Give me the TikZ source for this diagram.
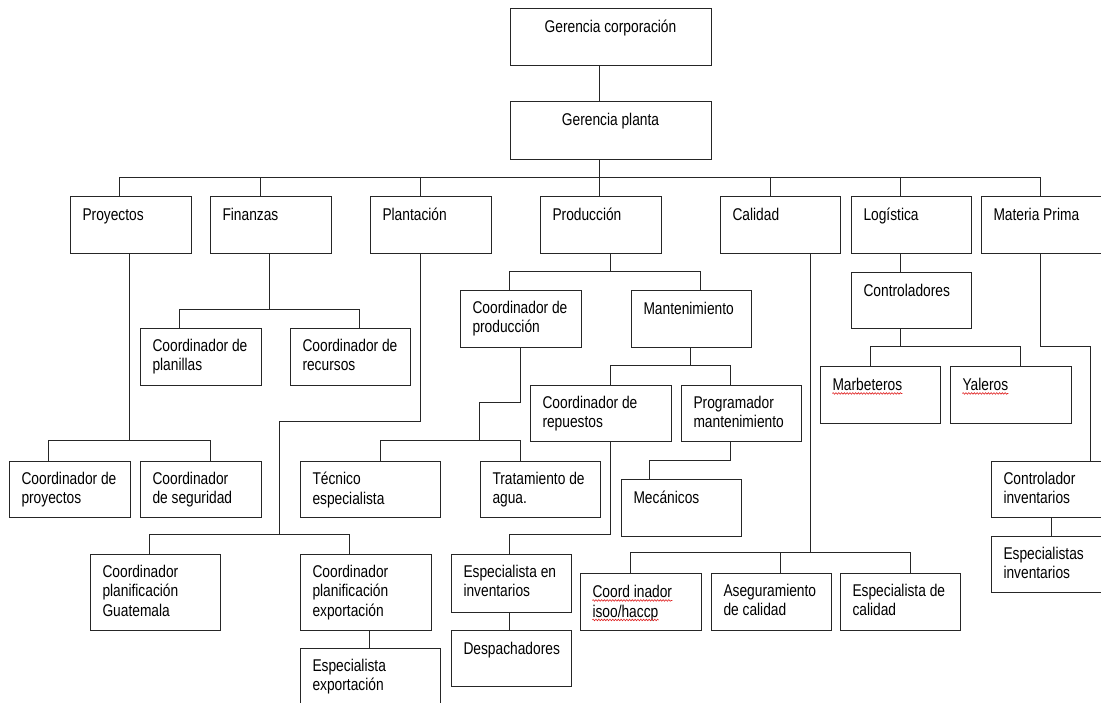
\documentclass[tikz,border=0pt]{standalone}
\usepackage{fontspec}
\setmainfont{Liberation Sans}[FakeStretch=0.81]
\usetikzlibrary{decorations.pathmorphing}

\definecolor{linegray}{HTML}{262626}
\definecolor{spellred}{HTML}{E02020}

\tikzset{
  orgframe/.style={draw=linegray, line width=1pt, rectangle, inner sep=0pt, fill=white},
  boxtxt/.style={inner sep=0pt, align=left, text=black,
    font=\fontsize{17}{19.5}\selectfont, execute at begin node=\strut},
  orgwire/.style={draw=linegray, line width=1pt},
  spellmark/.style={draw=spellred, line width=0.6pt, decorate,
    decoration={snake, amplitude=0.8pt, segment length=2.8pt}}
}

% \orgbox{name}{x1}{y1}{x2}{y2}{text}: framed box with top-left text
\newcommand\orgbox[6]{%
  \node[orgframe, anchor=north west, minimum width={(#4)-(#2)},
        minimum height={(#5)-(#3)}] (#1) at (#2,#3) {};
  \node[boxtxt, anchor=north west] (#1-t) at ([xshift=12.8pt,yshift=-11.3pt]#1.north west) {#6};
}

\begin{document}
\begin{tikzpicture}[x=1pt, y=-1pt]
\useasboundingbox (0,0) rectangle (1101,702);
\clip (0,0) rectangle (1101,702);
\fill[white] (0,0) rectangle (1101,702);
\coordinate (spine) at (599.5,0);

% ---- boxes ----
\node[orgframe, anchor=north west, minimum width=201pt, minimum height=57pt] (gcorp) at (509.5,7.5) {};
\node[boxtxt, anchor=north] (gcorp-t) at ([yshift=-11.3pt]gcorp.north) {Gerencia corporación};
\node[orgframe, anchor=north west, minimum width=201pt, minimum height=58pt] (gplanta) at (509.5,100.5) {};
\node[boxtxt, anchor=north] (gplanta-t) at ([yshift=-11.3pt]gplanta.north) {Gerencia planta};

\orgbox{proy}{69.5}{195.5}{190.5}{252.5}{Proyectos}
\orgbox{fin}{209.5}{195.5}{330.5}{252.5}{Finanzas}
\orgbox{plant}{369.5}{195.5}{490.5}{252.5}{Plantación}
\orgbox{prod}{539.5}{195.5}{660.5}{252.5}{Producción}
\orgbox{cal}{719.5}{195.5}{839.5}{252.5}{Calidad}
\orgbox{log}{850.5}{195.5}{970.5}{252.5}{Logística}
\orgbox{mp}{980.5}{195.5}{1115}{252.5}{Materia Prima}

\orgbox{cplan}{139.5}{327.5}{260.5}{384.5}{Coordinador de\\planillas}
\orgbox{crec}{289.5}{327.5}{409.5}{384.5}{Coordinador de\\recursos}
\orgbox{cproy}{8.5}{460.5}{129.5}{516.5}{Coordinador de\\proyectos}
\orgbox{cseg}{139.5}{460.5}{260.5}{516.5}{Coordinador\\de seguridad}
\orgbox{cguat}{89.5}{553.5}{219.5}{629.5}{Coordinador\\planificación\\Guatemala}
\orgbox{cexp}{299.5}{553.5}{430.5}{629.5}{Coordinador\\planificación\\exportación}
\orgbox{espexp}{299.5}{647.5}{439.5}{720}{Especialista\\exportación}

\orgbox{cprod}{459.5}{289.5}{580.5}{346.5}{Coordinador de\\producción}
\orgbox{mant}{630.5}{289.5}{750.5}{346.5}{Mantenimiento}
\orgbox{tec}{299.5}{460.5}{439.5}{516.5}{Técnico\\especialista}
\orgbox{trat}{479.5}{460.5}{599.5}{516.5}{Tratamiento de\\agua.}
\orgbox{crep}{529.5}{384.5}{670.5}{440.5}{Coordinador de\\repuestos}
\orgbox{prog}{680.5}{384.5}{800.5}{440.5}{Programador\\mantenimiento}
\orgbox{espinv}{450.5}{553.5}{570.5}{611.5}{Especialista en\\inventarios}
\orgbox{desp}{450.5}{629.5}{570.5}{685.5}{Despachadores}
\orgbox{mec}{620.5}{478.5}{740.5}{535.5}{Mecánicos}

\orgbox{iso}{579.5}{572.5}{700.5}{629.5}{Coord inador}
\node[boxtxt, anchor=north west] (iso-t2) at ([yshift=-19.5pt]iso-t.north west) {isoo/haccp};
\orgbox{aseg}{710.5}{572.5}{830.5}{629.5}{Aseguramiento\\de calidad}
\orgbox{espcal}{839.5}{572.5}{959.5}{629.5}{Especialista de\\calidad}

\orgbox{ctrl}{850.5}{271.5}{970.5}{327.5}{Controladores}
\orgbox{marb}{819.5}{365.5}{939.5}{422.5}{Marbeteros}
\orgbox{yal}{949.5}{365.5}{1070.5}{422.5}{Yaleros}
\orgbox{cinv}{990.5}{460.5}{1115}{516.5}{Controlador\\inventarios}
\orgbox{espinv2}{990.5}{535.5}{1115}{591.5}{Especialistas\\inventarios}

% ---- connectors ----
\begin{scope}[orgwire]
% top of the chart
\draw (spine |- gcorp.south) -- (spine |- gplanta.north);
\draw (spine |- gplanta.south) -- (spine |- prod.north);
\draw (119.5,0 |- proy.north) |- (1040.5,177.5) -- (1040.5,0 |- mp.north);
\draw (260.5,177.5) -- (260.5,0 |- fin.north);
\draw (420.5,177.5) -- (420.5,0 |- plant.north);
\draw (770.5,177.5) -- (770.5,0 |- cal.north);
\draw (900.5,177.5) -- (900.5,0 |- log.north);
% Finanzas
\draw (269.5,0 |- fin.south) -- (269.5,309.5);
\draw (179.5,0 |- cplan.north) |- (359.5,309.5) -- (359.5,0 |- crec.north);
% Proyectos
\draw (129.5,0 |- proy.south) -- (129.5,440.5);
\draw (48.5,0 |- cproy.north) |- (210.5,440.5) -- (210.5,0 |- cseg.north);
% Plantacion
\draw (420.5,0 |- plant.south) |- (279.5,421.5) -- (279.5,534.5);
\draw (149.5,0 |- cguat.north) |- (349.5,534.5) -- (349.5,0 |- cexp.north);
\draw (369.5,0 |- cexp.south) -- (369.5,0 |- espexp.north);
% Produccion
\draw (610.5,0 |- prod.south) -- (610.5,271.5);
\draw (509.5,0 |- cprod.north) |- (700.5,271.5) -- (700.5,0 |- mant.north);
\draw (520.5,0 |- cprod.south) |- (479.5,402.5) -- (479.5,440.5);
\draw (380.5,0 |- tec.north) |- (520.5,440.5) -- (520.5,0 |- trat.north);
% Mantenimiento
\draw (690.5,0 |- mant.south) -- (690.5,365.5);
\draw (610.5,0 |- crep.north) |- (730.5,365.5) -- (730.5,0 |- prog.north);
\draw (610.5,0 |- crep.south) |- (509.5,534.5) -- (509.5,0 |- espinv.north);
\draw (509.5,0 |- espinv.south) -- (509.5,0 |- desp.north);
\draw (730.5,0 |- prog.south) |- (649.5,460.5) -- (649.5,0 |- mec.north);
% Calidad
\draw (810.5,0 |- cal.south) -- (810.5,552.5);
\draw (630.5,0 |- iso.north) |- (910.5,552.5) -- (910.5,0 |- espcal.north);
\draw (780.5,552.5) -- (780.5,0 |- aseg.north);
% Logistica
\draw (900.5,0 |- log.south) -- (900.5,0 |- ctrl.north);
\draw (900.5,0 |- ctrl.south) -- (900.5,346.5);
\draw (870.5,0 |- marb.north) |- (1020.5,346.5) -- (1020.5,0 |- yal.north);
% Materia Prima
\draw (1040.5,0 |- mp.south) |- (1090.5,346.5) -- (1090.5,0 |- cinv.north);
\draw (1051.5,0 |- cinv.south) -- (1051.5,0 |- espinv2.north);
\end{scope}

% ---- spelling marks under flagged words ----
\foreach \w in {marb-t, yal-t, iso-t, iso-t2}{
  \draw[spellmark] ([yshift=-2.8pt]\w.base west) -- ([yshift=-2.8pt]\w.base east);
}
\end{tikzpicture}
\end{document}
